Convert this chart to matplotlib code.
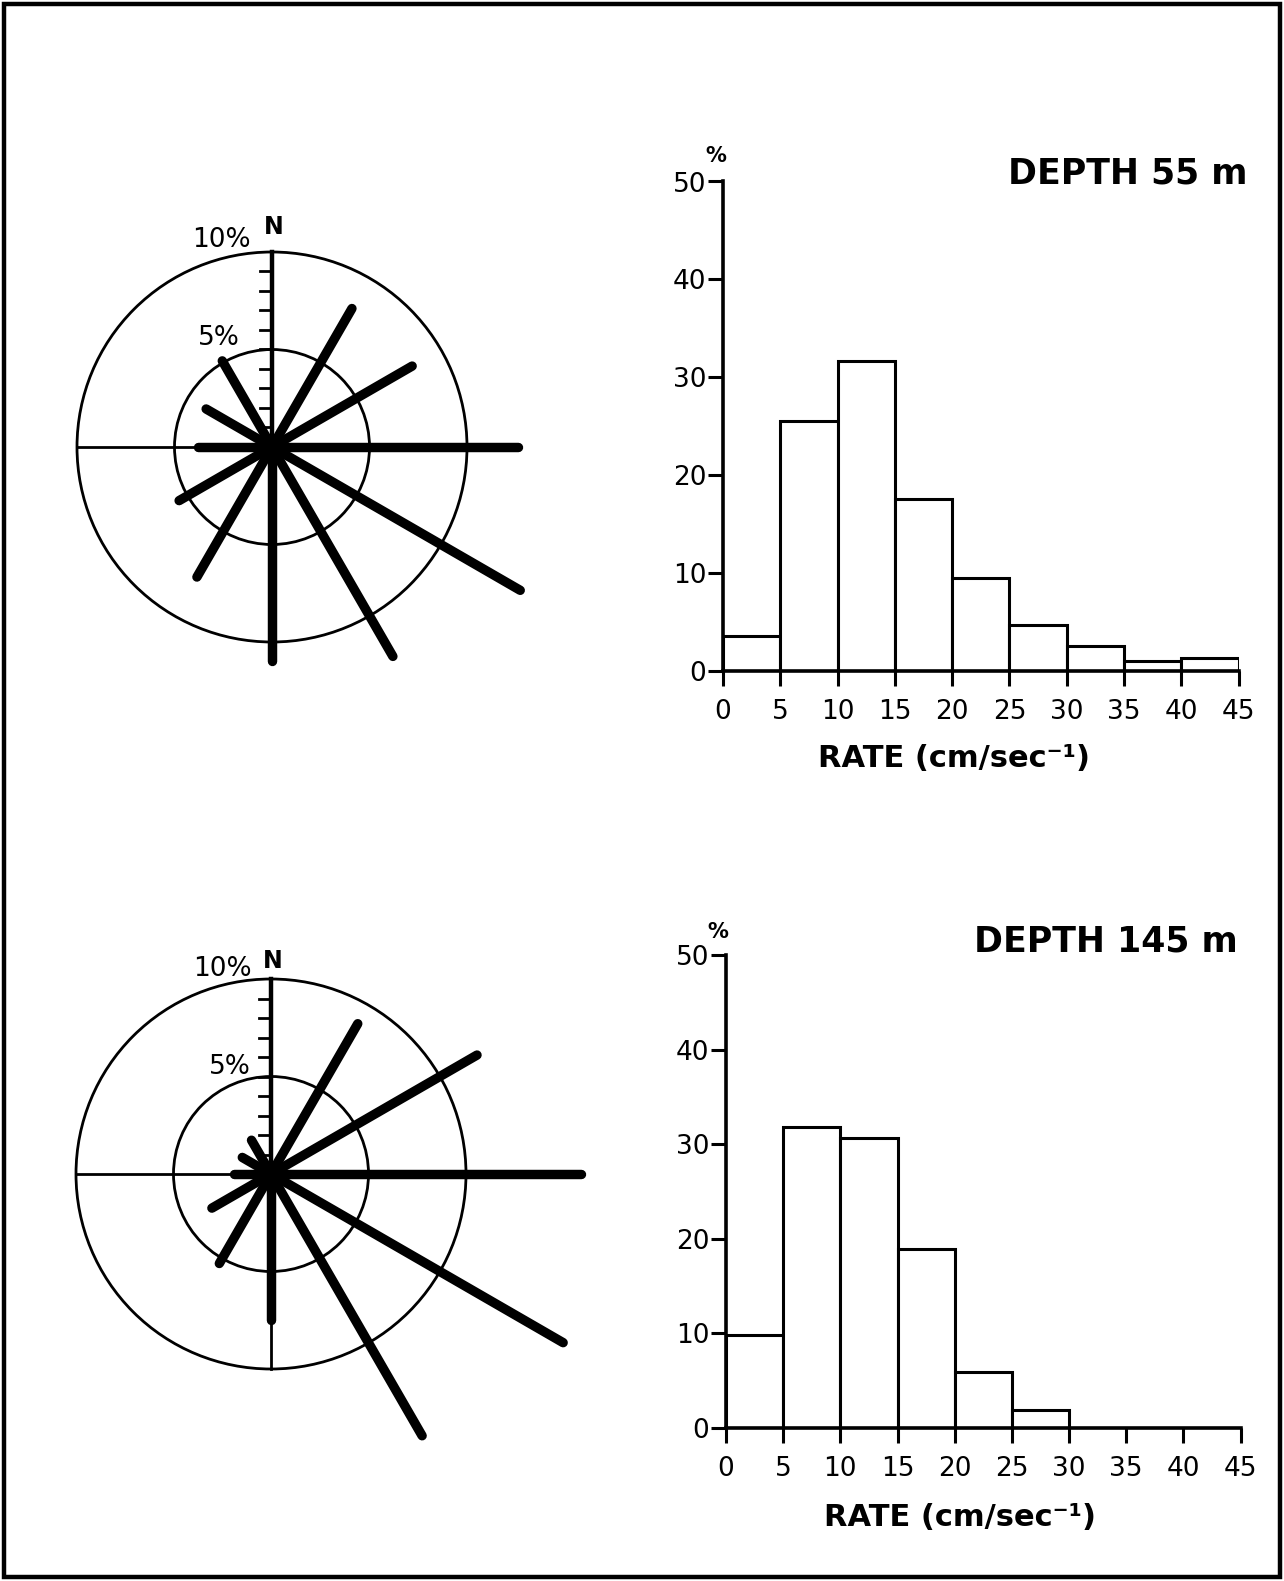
import numpy as np
import matplotlib
matplotlib.use("Agg")
import matplotlib.pyplot as plt
from matplotlib.patches import Circle, Rectangle

#### data ---------------------------------------

# current rose: direction (deg clockwise from N) and frequency (%)
bearings = [30, 60, 90, 120, 150, 180, 210, 240, 270, 300, 330]
rose_55 = [8.2, 8.3, 12.6, 14.7, 12.4, 11.0, 7.7, 5.5, 3.8, 3.9, 5.1]
rose_145 = [8.9, 12.2, 15.9, 17.3, 15.5, 7.5, 5.3, 3.5, 1.9, 1.7, 2.0]

# current speed histogram (cm/sec) and frequency (%)
bin_edges = [0, 5, 10, 15, 20, 25, 30, 35, 40, 45]
hist_55 = [3.6, 25.5, 31.7, 17.6, 9.5, 4.7, 2.6, 1.0, 1.3]
hist_145 = [9.8, 31.8, 30.7, 18.9, 5.9, 1.9, 0, 0, 0]

x_ticks = [0, 5, 10, 15, 20, 25, 30, 35, 40, 45]
y_ticks = [0, 10, 20, 30, 40, 50]
depth_labels = ["DEPTH 55 m", "DEPTH 145 m"]
rate_label = "RATE (cm/sec⁻¹)"

#### layout helpers -----------------------------

W, H = 1284, 1581
fig = plt.figure(figsize=(W / 100, H / 100), dpi=100)
plt.rcParams['font.family'] = ['DejaVu Sans']


def px_axes(left, top, width, height):
    return fig.add_axes([left / W, 1 - (top + height) / H, width / W, height / H])


def px_text(x, y, s, **kw):
    fig.text(x / W, 1 - y / H, s, **kw)


def draw_rose(cx, cy, scale, values, lab10, labn, lab5):
    """Current rose centred at pixel (cx, cy), scale = pixels per 1 %."""
    x0, x1, y0, y1 = -11, 17, -14, 12
    ax = px_axes(cx + x0 * scale, cy - y1 * scale, (x1 - x0) * scale, (y1 - y0) * scale)
    ax.set_xlim(x0, x1)
    ax.set_ylim(y0, y1)
    ax.axis('off')

    for r in (5, 10):
        ax.add_patch(Circle((0, 0), r, fill=False, lw=2.0, ec='black'))
    ax.plot([-10, 10], [0, 0], color='black', lw=2.0)
    ax.plot([0, 0], [0, -10], color='black', lw=2.0)

    # north scale axis with 1 % ticks
    ax.plot([0, 0], [0, 10], color='black', lw=3.2)
    for k in range(1, 10):
        ax.plot([-0.6, 0], [k, k], color='black', lw=2.0)

    b = np.radians(bearings)
    v = np.array(values)
    for xe, ye in zip(v * np.sin(b), v * np.cos(b)):
        ax.plot([0, xe], [0, ye], color='black', lw=6.8, solid_capstyle='round')
    ax.add_patch(Circle((0, 0), 0.55, color='black'))

    ax.text(lab10[0], lab10[1], "10%", fontsize=19, ha='center', va='center')
    ax.text(labn[0], labn[1], "N", fontsize=17, fontweight='bold', ha='center', va='center')
    ax.text(lab5[0], lab5[1], "5%", fontsize=19, ha='center', va='center')


def draw_hist(left, top, width, height, heights):
    ax = px_axes(left, top, width, height)
    ax.set_facecolor('none')
    ax.bar(bin_edges[:-1], heights, width=np.diff(bin_edges), align='edge',
           facecolor='white', edgecolor='black', lw=2.2)
    ax.set_xlim(0, 45)
    ax.set_ylim(0, 50)
    ax.set_xticks(x_ticks)
    ax.set_yticks(y_ticks)
    for sp in ('top', 'right'):
        ax.spines[sp].set_visible(False)
    for sp in ('left', 'bottom'):
        ax.spines[sp].set_linewidth(2.6)
    ax.tick_params(axis='x', direction='out', length=11, width=2.2, labelsize=19, pad=9)
    ax.tick_params(axis='y', direction='out', length=11, width=2.2, labelsize=19, pad=1)
    return ax


#### PLOT ---------------------------------------

draw_rose(272, 447, 19.5, rose_55, (-2.6, 10.6), (0.1, 11.3), (-2.7, 5.6))
draw_rose(271, 1174, 19.5, rose_145, (-2.5, 10.5), (0.1, 10.9), (-2.1, 5.5))

draw_hist(723, 181.5, 515.6, 489.5, hist_55)
draw_hist(726, 955, 514.6, 473, hist_145)

px_text(716, 156, "%", fontsize=15, fontweight='bold', ha='center', va='center')
px_text(718, 932, "%", fontsize=15, fontweight='bold', ha='center', va='center')

px_text(1247, 174, depth_labels[0], fontsize=25, fontweight='bold', ha='right', va='center')
px_text(1238, 942, depth_labels[1], fontsize=25, fontweight='bold', ha='right', va='center')

px_text(954, 758, rate_label, fontsize=22, fontweight='bold', ha='center', va='center')
px_text(960, 1518, rate_label, fontsize=22, fontweight='bold', ha='center', va='center')

# frame around the whole figure
fig.patches.append(Rectangle((4 / W, 4 / H), 1 - 8 / W, 1 - 8 / H, transform=fig.transFigure,
                             fill=False, lw=3.2, ec='black'))

fig.savefig("out.png", dpi=100)
